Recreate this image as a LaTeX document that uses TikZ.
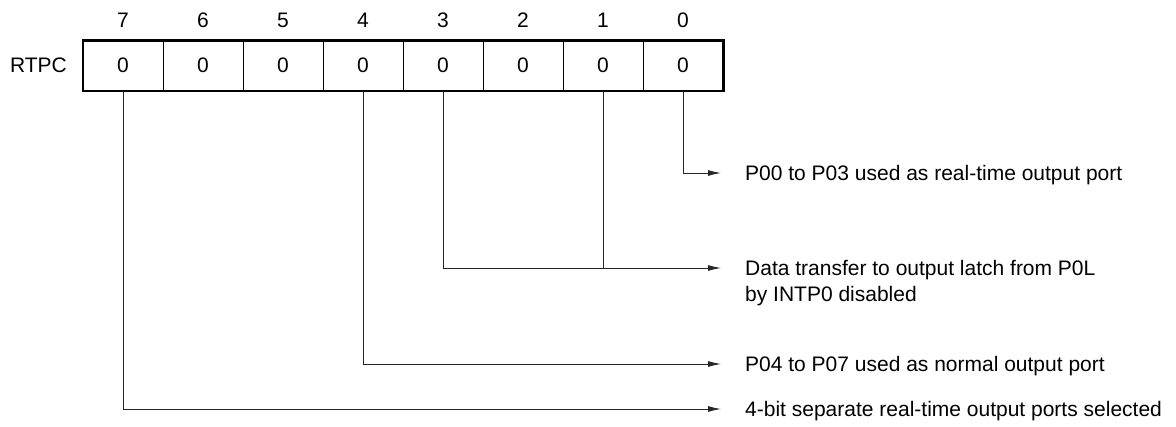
\documentclass[tikz,border=0pt]{standalone}
\usepackage{fontspec}
\setmainfont{Liberation Sans}
\usetikzlibrary{arrows.meta}
\begin{document}
\begin{tikzpicture}[x=1pt,y=-1pt,
  every node/.style={font=\fontsize{21}{25.6}\selectfont, inner sep=0pt},
  cell/.style={draw, line width=0.8pt, minimum width=80pt, minimum height=49.5pt},
  bitnum/.style={},
  conn/.style={line width=0.9pt, draw=black!85},
  arr/.style={conn, -{Latex[length=13pt,width=6pt]}},
  desc/.style={anchor=base west, align=left}]
\useasboundingbox (0,0) rectangle (1176,427);
% register cells
\foreach \b [count=\i from 0] in {7,6,5,4,3,2,1,0} {
  \node[cell] (b\b) at (123+80*\i,65.75) {0};
  \node[bitnum] (n\b) at (123+80*\i,20) {\b};
}
\draw[line width=2.2pt] (b7.north west) rectangle (b0.south east);
\node[anchor=base east] (lbl) at (67,72.5) {RTPC};
% arrow end points
\coordinate (e0) at (721,173);
\coordinate (e1) at (721,268);
\coordinate (e2) at (721,364);
\coordinate (e3) at (721,409);
% descriptions
\node[desc] (d0) at (745,180.5) {P00 to P03 used as real-time output port};
\node[desc] (d1) at (745,301.1) {Data transfer to output latch from P0L\\by INTP0 disabled};
\node[desc] (d2) at (745,371.5) {P04 to P07 used as normal output port};
\node[desc] (d3) at (745,416.5) {4-bit separate real-time output ports selected};
% connectors
\draw[arr] (b0.south) |- (e0);
\draw[arr] (b3.south) |- (e1);
\draw[conn] (b1.south) -- (b1.south |- e1);
\draw[arr] (b4.south) |- (e2);
\draw[arr] (b7.south) |- (e3);
\end{tikzpicture}
\end{document}
